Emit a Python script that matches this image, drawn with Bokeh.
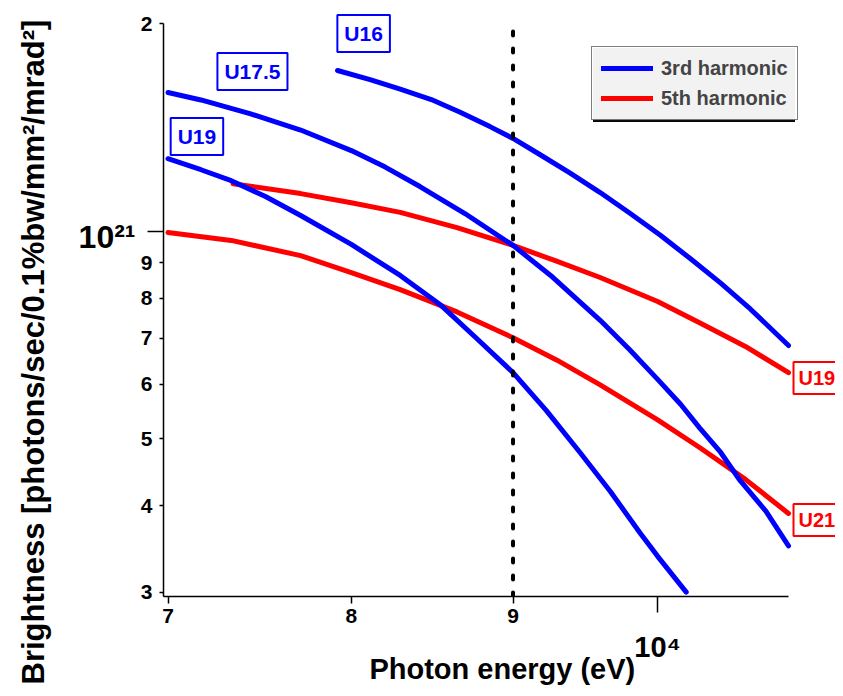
import math
from bokeh.plotting import figure
from bokeh.models import (Range1d, FixedTicker, CustomJSTickFormatter, Label, LogAxis,
                          Legend, LegendItem, Title)
from bokeh.embed import file_html
from bokeh.resources import INLINE

# ---------------- data (photon energy in eV, brightness in photons/sec/0.1%bw/mm²/mrad²) ----------------
# 3rd harmonic curves
u16_energy = [7920, 8110, 8290, 8480, 8660, 8850, 9000, 9180, 9380, 9590, 9800, 10020,
              10240, 10470, 10700, 11000]
u16_bright = [17.10e20, 16.59e20, 16.07e20, 15.52e20, 14.88e20, 14.18e20, 13.63e20, 12.91e20,
              12.15e20, 11.38e20, 10.62e20, 9.87e20, 9.13e20, 8.41e20, 7.71e20, 6.83e20]

u175_energy = [7000, 7170, 7430, 7710, 8000, 8200, 8410, 8690, 9000, 9250, 9590, 9800,
               10000, 10170, 10310, 10470, 10620, 10820, 11000]
u175_bright = [15.89e20, 15.50e20, 14.81e20, 14.02e20, 13.09e20, 12.39e20, 11.61e20, 10.61e20,
               9.54e20, 8.63e20, 7.43e20, 6.73e20, 6.10e20, 5.61e20, 5.19e20, 4.78e20, 4.35e20,
               3.93e20, 3.50e20]

u19_3_energy = [7000, 7170, 7330, 7515, 7710, 8000, 8290, 8540, 8760, 9000, 9220, 9450,
                9660, 9870, 10000, 10210]
u19_3_bright = [12.74e20, 12.28e20, 11.84e20, 11.23e20, 10.54e20, 9.57e20, 8.63e20, 7.81e20,
                7.01e20, 6.24e20, 5.50e20, 4.78e20, 4.20e20, 3.66e20, 3.38e20, 3.0e20]

# 5th harmonic curves
u19_5_energy = [7340, 7710, 8000, 8290, 8640, 9000, 9290, 9590, 10000, 10310, 10660, 11000]
u19_5_bright = [11.72e20, 11.34e20, 11.00e20, 10.65e20, 10.12e20, 9.54e20, 9.05e20, 8.57e20,
                7.91e20, 7.37e20, 6.81e20, 6.24e20]

u21_energy = [7000, 7330, 7710, 8000, 8290, 8640, 9000, 9290, 9590, 10000, 10310, 10660, 11000]
u21_bright = [9.96e20, 9.70e20, 9.22e20, 8.71e20, 8.23e20, 7.64e20, 7.01e20, 6.51e20, 5.99e20,
              5.33e20, 4.86e20, 4.37e20, 3.90e20]

reference_energy = 9000

x_tick_values = [7000, 8000, 9000]
x_tick_labels = ["7", "8", "9"]
x_decade = 10000
x_decade_label = "10⁴"
y_tick_values = [3e20, 4e20, 5e20, 6e20, 7e20, 8e20, 9e20, 2e21]
y_tick_labels = ["3", "4", "5", "6", "7", "8", "9", "2"]
y_decade = 1e21
y_decade_label = "10²¹"

x_title = "Photon energy (eV)"
y_title = "Brightness [photons/sec/0.1%bw/mm²/mrad²]"
legend_labels = ["3rd harmonic", "5th harmonic"]

# ---------------- styling ----------------
FONT = "Liberation Sans"
BLUE = "#0000ff"
RED = "#ff0000"
NBSP = "\u00a0"
X_START, X_AXIS_END, X_END = 6977, 11000, 11383
Y_START, Y_AXIS_END, Y_END = 2.956e20, 2e21, 2.160e21

p = figure(frame_width=672, frame_height=596, x_axis_type="log", y_axis_type="log",
           x_range=Range1d(X_START, X_END), y_range=Range1d(Y_START, Y_END),
           output_backend="svg", toolbar_location=None, title=None,
           min_border_left=163, min_border_right=0, min_border_top=0, min_border_bottom=92)
p.outline_line_color = None
p.xgrid.grid_line_color = None
p.ygrid.grid_line_color = None
p.background_fill_color = "white"
p.border_fill_color = "white"


def label_formatter(vals, labels):
    return CustomJSTickFormatter(args=dict(vals=vals, labels=labels),
                                 code="const i = vals.indexOf(tick); return i >= 0 ? labels[i] : '';")


# axis 1: lines and ticks (long ticks at decades)
for ax in (p.xaxis[0], p.yaxis[0]):
    ax.formatter = label_formatter([], [])
    ax.axis_line_color = "black"
    ax.axis_line_width = 1.5
    ax.major_tick_line_color = "black"
    ax.minor_tick_line_color = "black"
    ax.major_tick_line_width = 1.5
    ax.minor_tick_line_width = 1.5
    ax.major_tick_in = 0
    ax.minor_tick_in = 0
    ax.major_tick_out = 16
    ax.major_label_standoff = 0
    ax.major_label_text_font_size = "1px"

p.xaxis[0].ticker = FixedTicker(ticks=[x_decade], minor_ticks=x_tick_values)
p.xaxis[0].minor_tick_out = 7
p.xaxis[0].bounds = (X_START, X_AXIS_END)
p.yaxis[0].ticker = FixedTicker(ticks=[y_decade], minor_ticks=y_tick_values)
p.yaxis[0].minor_tick_out = 4
p.yaxis[0].bounds = (Y_START, Y_AXIS_END)


def label_axis(vals, labels, size, standoff):
    ax = LogAxis(ticker=FixedTicker(ticks=vals, minor_ticks=[]),
                 formatter=label_formatter(vals, labels))
    ax.axis_line_color = None
    ax.major_tick_line_color = None
    ax.minor_tick_line_color = None
    ax.major_tick_out = 0
    ax.major_tick_in = 0
    ax.minor_tick_out = 0
    ax.minor_tick_in = 0
    ax.major_label_standoff = standoff
    ax.major_label_text_font = FONT
    ax.major_label_text_font_style = "bold"
    ax.major_label_text_font_size = size
    ax.major_label_text_color = "black"
    return ax


# axis 2: numeric tick labels; axis 3: decade labels (and x title, set one line lower)
p.add_layout(label_axis(x_tick_values, x_tick_labels, "21px", -4), "below")
x_title_pos = 8930
ax3 = label_axis([x_title_pos, x_decade], ["\n" + x_title, x_decade_label], "29px", 5)
ax3.major_label_text_line_height = 0.7
p.add_layout(ax3, "below")
p.add_layout(label_axis(y_tick_values, y_tick_labels, "21px", -5), "left")
y_decade_label_pos = 0.98 * y_decade  # the "10²¹" label sits slightly below its tick
p.add_layout(label_axis([y_decade_label_pos], [NBSP * 2 + y_decade_label], "32px", 2), "left")

# y axis title
p.add_layout(Title(text=y_title, align="left", offset=-88, standoff=13,
                   text_font=FONT, text_font_style="bold", text_font_size="31px",
                   text_color="black"), "left")

# curves
lw = 5
r_u21 = p.line(u21_energy, u21_bright, line_color=RED, line_width=lw, line_cap="round", line_join="round")
r_u19_5 = p.line(u19_5_energy, u19_5_bright, line_color=RED, line_width=lw, line_cap="round", line_join="round")
r_u19_3 = p.line(u19_3_energy, u19_3_bright, line_color=BLUE, line_width=lw, line_cap="round", line_join="round")
r_u175 = p.line(u175_energy, u175_bright, line_color=BLUE, line_width=lw, line_cap="round", line_join="round")
r_u16 = p.line(u16_energy, u16_bright, line_color=BLUE, line_width=lw, line_cap="round", line_join="round")

# dotted reference line
p.line([reference_energy, reference_energy], [Y_START, Y_AXIS_END], line_color="black",
       line_width=4, line_dash="4 13", line_cap="round")


# boxed curve labels
def boxed(x, y, text, color, size="21px", pad=7, **kw):
    return Label(x=x, y=y, text=text, text_font=FONT, text_font_style="bold",
                 text_font_size=size, text_color=color, border_line_color=color,
                 border_line_width=2, background_fill_color="white", padding=pad, **kw)


p.add_layout(boxed(8072, 1.934e21, "U16", BLUE, text_align="center", text_baseline="middle"))
p.add_layout(boxed(7444, 1.704e21, "U17.5", BLUE, text_align="center", text_baseline="middle"))
p.add_layout(boxed(7149, 1.372e21, "U19", BLUE, text_align="center", text_baseline="middle"))
p.add_layout(boxed(X_AXIS_END, 6.13e20, "U19", RED, size="20px", pad=5, x_offset=5,
                   text_align="left", text_baseline="middle"))
p.add_layout(boxed(X_AXIS_END, 3.815e20, "U21", RED, size="20px", pad=5, x_offset=5,
                   text_align="left", text_baseline="middle"))

# legend (with a drop shadow made by a black copy behind it)
legend_kw = dict(label_text_font=FONT, label_text_font_style="bold",
                 label_text_font_size="20px", glyph_width=52, glyph_height=24, label_height=24,
                 label_width=122, label_standoff=8, spacing=6, padding=9, margin=0,
                 border_line_width=1.5)
shadow = Legend(items=[LegendItem(label=NBSP, renderers=[r_u16]),
                       LegendItem(label=NBSP, renderers=[r_u19_5])],
                location=(430, 474), border_line_color="black", background_fill_color="black",
                **legend_kw)
p.add_layout(shadow)
legend = Legend(items=[LegendItem(label=legend_labels[0], renderers=[r_u16]),
                       LegendItem(label=legend_labels[1], renderers=[r_u19_5])],
                location=(428, 476), border_line_color="black", background_fill_color="white",
                **legend_kw)
p.add_layout(legend)

open("out.html", "w").write(file_html(p, INLINE))
